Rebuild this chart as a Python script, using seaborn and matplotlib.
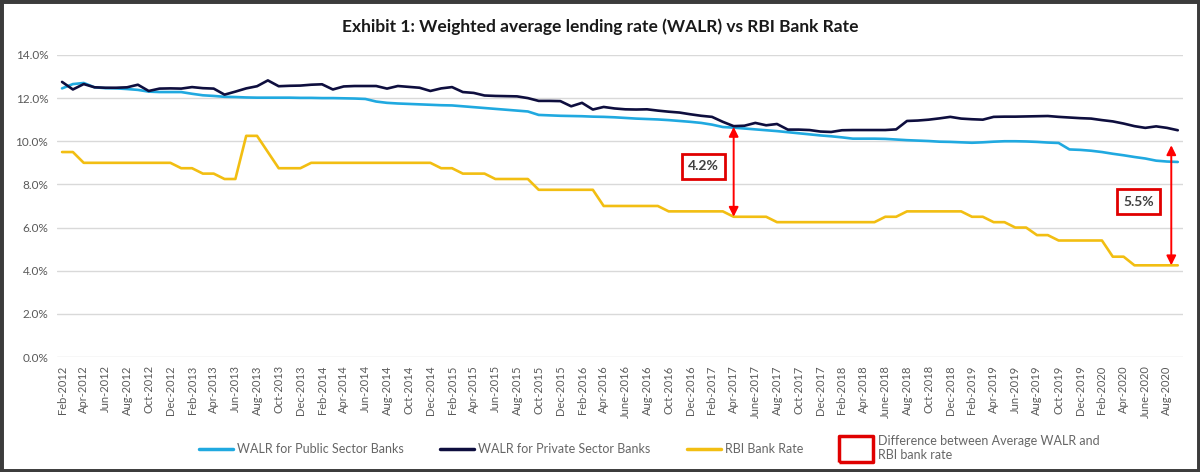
import numpy as np
import pandas as pd
import matplotlib
matplotlib.use('Agg')
import matplotlib.pyplot as plt
import seaborn as sns
from matplotlib.lines import Line2D
from matplotlib.patches import Rectangle
from matplotlib.ticker import FuncFormatter

sns.set_style('white')
plt.rcParams['font.family'] = ['Lato', 'DejaVu Sans']

# Monthly values, Feb-2012 .. Sep-2020
walr_public = [
    12.45, 12.65, 12.70, 12.50, 12.46, 12.45, 12.42, 12.38, 12.30, 12.28,
    12.28, 12.28, 12.20, 12.13, 12.10, 12.06, 12.05, 12.03, 12.02, 12.02,
    12.02, 12.02, 12.01, 12.01, 12.00, 12.00, 11.99, 11.98, 11.96, 11.84,
    11.78, 11.75, 11.73, 11.71, 11.69, 11.67, 11.66, 11.62, 11.58, 11.54,
    11.50, 11.46, 11.42, 11.38, 11.22, 11.20, 11.18, 11.17, 11.16, 11.14,
    11.13, 11.11, 11.08, 11.05, 11.03, 11.01, 10.98, 10.94, 10.90, 10.85,
    10.77, 10.66, 10.63, 10.59, 10.55, 10.51, 10.47, 10.42, 10.37, 10.32,
    10.27, 10.23, 10.18, 10.12, 10.12, 10.12, 10.11, 10.08, 10.05, 10.03,
    10.01, 9.98, 9.97, 9.95, 9.93, 9.95, 9.98, 10.00, 10.00, 9.99,
    9.97, 9.94, 9.92, 9.62, 9.60, 9.56, 9.50, 9.42, 9.35, 9.27,
    9.20, 9.10, 9.06, 9.04,
]
walr_private = [
    12.75, 12.40, 12.65, 12.50, 12.48, 12.48, 12.50, 12.62, 12.33, 12.44,
    12.45, 12.44, 12.51, 12.46, 12.44, 12.16, 12.30, 12.45, 12.55, 12.82,
    12.55, 12.57, 12.58, 12.62, 12.64, 12.40, 12.54, 12.56, 12.56, 12.56,
    12.44, 12.56, 12.52, 12.48, 12.33, 12.45, 12.51, 12.28, 12.24, 12.12,
    12.10, 12.09, 12.08, 12.00, 11.87, 11.87, 11.86, 11.62, 11.78, 11.47,
    11.59, 11.52, 11.48, 11.47, 11.48, 11.42, 11.37, 11.33, 11.25, 11.18,
    11.13, 10.90, 10.70, 10.72, 10.85, 10.74, 10.80, 10.54, 10.54, 10.52,
    10.45, 10.43, 10.51, 10.52, 10.52, 10.52, 10.52, 10.55, 10.94, 10.96,
    11.00, 11.06, 11.13, 11.05, 11.02, 11.00, 11.13, 11.14, 11.14, 11.15,
    11.16, 11.17, 11.13, 11.10, 11.07, 11.05, 10.98, 10.92, 10.82, 10.70,
    10.62, 10.69, 10.62, 10.51,
]
bank_rate = [
    9.50, 9.50, 9.00, 9.00, 9.00, 9.00, 9.00, 9.00, 9.00, 9.00,
    9.00, 8.75, 8.75, 8.50, 8.50, 8.25, 8.25, 10.25, 10.25, 9.50,
    8.75, 8.75, 8.75, 9.00, 9.00, 9.00, 9.00, 9.00, 9.00, 9.00,
    9.00, 9.00, 9.00, 9.00, 9.00, 8.75, 8.75, 8.50, 8.50, 8.50,
    8.25, 8.25, 8.25, 8.25, 7.75, 7.75, 7.75, 7.75, 7.75, 7.75,
    7.00, 7.00, 7.00, 7.00, 7.00, 7.00, 6.75, 6.75, 6.75, 6.75,
    6.75, 6.75, 6.50, 6.50, 6.50, 6.50, 6.25, 6.25, 6.25, 6.25,
    6.25, 6.25, 6.25, 6.25, 6.25, 6.25, 6.50, 6.50, 6.75, 6.75,
    6.75, 6.75, 6.75, 6.75, 6.50, 6.50, 6.25, 6.25, 6.00, 6.00,
    5.65, 5.65, 5.40, 5.40, 5.40, 5.40, 5.40, 4.65, 4.65, 4.25,
    4.25, 4.25, 4.25, 4.25,
]

tick_labels = [
    'Feb-2012', 'Apr-2012', 'Jun-2012', 'Aug-2012', 'Oct-2012', 'Dec-2012',
    'Feb-2013', 'Apr-2013', 'Jun-2013', 'Aug-2013', 'Oct-2013', 'Dec-2013',
    'Feb-2014', 'Apr-2014', 'Jun-2014', 'Aug-2014', 'Oct-2014', 'Dec-2014',
    'Feb-2015', 'Apr-2015', 'Jun-2015', 'Aug-2015', 'Oct-2015', 'Dec-2015',
    'Feb-2016', 'Apr-2016', 'June-2016', 'Aug-2016', 'Oct-2016', 'Dec-2016',
    'Feb-2017', 'Apr-2017', 'June-2017', 'Aug-2017', 'Oct-2017', 'Dec-2017',
    'Feb-2018', 'Apr-2018', 'June-2018', 'Aug-2018', 'Oct-2018', 'Dec-2018',
    'Feb-2019', 'Apr-2019', 'Jun-2019', 'Aug-2019', 'Oct-2019', 'Dec-2019',
    'Feb-2020', 'Apr-2020', 'June-2020', 'Aug-2020',
]

series_names = ['WALR for Public Sector Banks', 'WALR for Private Sector Banks', 'RBI Bank Rate']
colors = ['#20A9E0', '#0E0E3E', '#F2BE12']

# gap annotations: (month index, label, box position)
gaps = [(62, '4.2%', 59.2, 8.84), (102.4, '5.5%', 99.4, 7.2)]

n = len(walr_public)
df = pd.DataFrame({'month': np.arange(n),
                   series_names[0]: walr_public,
                   series_names[1]: walr_private,
                   series_names[2]: bank_rate})
long_df = df.melt(id_vars='month', var_name='series', value_name='rate')

fig = plt.figure(figsize=(12, 4.72), dpi=100)
ax = fig.add_axes([0.0472, 0.2436, 0.9388, 0.64])

sns.lineplot(data=long_df, x='month', y='rate', hue='series', hue_order=series_names,
             palette=colors, linewidth=1.9, legend=False, ax=ax)

ax.set_xlim(-0.5, n - 0.5)
ax.set_ylim(0, 14)
ax.set_yticks(np.arange(0, 14.1, 2))
ax.yaxis.set_major_formatter(FuncFormatter(lambda v, p: f'{v:.1f}%'))
ax.set_xticks(np.arange(0, n, 2)[:len(tick_labels)])
ax.set_xticklabels(tick_labels, rotation=90)
ax.tick_params(axis='x', labelsize=8, colors='#595959', length=0, pad=6)
ax.tick_params(axis='y', labelsize=8.5, colors='#595959', length=0, pad=6)
ax.grid(axis='y', color='#D9D9D9', linewidth=1)
ax.set_xlabel('')
ax.set_ylabel('')
for s in ax.spines.values():
    s.set_visible(False)

# gap arrows and labels
for xi, label, bx, by in gaps:
    i0 = int(np.floor(xi))
    i1 = min(i0 + 1, n - 1)
    f = xi - i0
    avg = lambda arr: arr[i0] + (arr[i1] - arr[i0]) * f
    top = (avg(walr_public) + avg(walr_private)) / 2
    bottom = avg(bank_rate)
    ax.annotate('', xy=(xi, bottom), xytext=(xi, top),
                arrowprops=dict(arrowstyle='<|-|>', color='#FF0000', lw=1.4,
                                mutation_scale=14, shrinkA=0, shrinkB=0))
    ax.text(bx, by, label, ha='center', va='center', fontsize=10, fontweight='bold',
            color='#404040',
            bbox=dict(boxstyle='square,pad=0.45', facecolor='white', edgecolor='#E00000', lw=2))

fig.suptitle('Exhibit 1: Weighted average lending rate (WALR) vs RBI Bank Rate',
             x=0.5, y=0.96, fontsize=12.5, fontweight='bold', color='#1a1a1a')

box_marker = [(-1.25, -1), (1.25, -1), (1.25, 1), (-1.25, 1), (-1.25, -1)]
handles = [Line2D([], [], color=c, lw=2.5) for c in colors]
handles.append(Line2D([], [], marker=box_marker, markersize=24, markerfacecolor='white',
                      markeredgecolor='#E00000', markeredgewidth=2.5, linestyle='None'))
labels = series_names + ['Difference between Average WALR and\nRBI bank rate']
leg = fig.legend(handles, labels, loc='center', bbox_to_anchor=(0.541, 0.05), ncol=4,
                 frameon=False, fontsize=9, handlelength=2.7, columnspacing=2.9,
                 handletextpad=0.35)
for t in leg.get_texts():
    t.set_color('#666666')

fig.patches.append(Rectangle((0, 0), 1, 1, transform=fig.transFigure, fill=False,
                             edgecolor='#3C3C3C', lw=5))

fig.savefig('out.png', dpi=100, facecolor='white')
